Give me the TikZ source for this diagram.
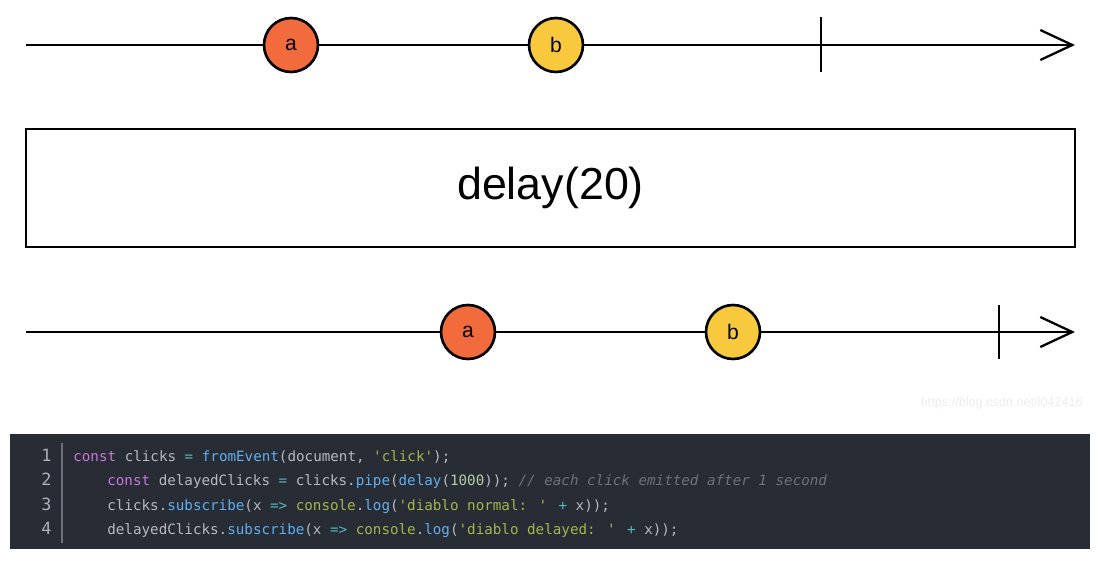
\documentclass[tikz,border=0pt]{standalone}
\usepackage{fontspec}
\setmainfont{Liberation Sans}
\newfontfamily\codefont{DejaVu Sans Mono}
\usetikzlibrary{arrows.meta}
\definecolor{MarbleA}{HTML}{F26B3C}
\definecolor{MarbleB}{HTML}{F9C93D}
\definecolor{CodeBg}{HTML}{282C34}
\definecolor{CodeText}{HTML}{B4BAC4}
\definecolor{CodeNum}{HTML}{A9B0BC}
\definecolor{CodeRule}{HTML}{6B717D}
\definecolor{CodeKw}{HTML}{C678DD}
\definecolor{CodeFn}{HTML}{61AFEF}
\definecolor{CodeOp}{HTML}{56B6C2}
\definecolor{CodeStr}{HTML}{A0B84E}
\definecolor{CodeNumLit}{HTML}{B5CEA8}
\definecolor{CodeCmt}{HTML}{6B717D}
\definecolor{MarkGray}{HTML}{ECECEC}
\newcommand{\kw}[1]{\textcolor{CodeKw}{#1}}
\newcommand{\fn}[1]{\textcolor{CodeFn}{#1}}
\newcommand{\op}[1]{\textcolor{CodeOp}{#1}}
\newcommand{\str}[1]{\textcolor{CodeStr}{#1}}
\newcommand{\nlit}[1]{\textcolor{CodeNumLit}{#1}}
\newcommand{\cmt}[1]{\textcolor{CodeCmt}{\itshape #1}}

\begin{document}
\begin{tikzpicture}[x=0.02cm,y=-0.02cm,
    timeline/.style={line width=1.3pt,black},
    flow/.style={timeline,-{Straight Barb[length=0.64cm,width=0.6cm,line width=1.3pt]}},
    marble/.style={circle,draw=black,line width=1.5pt,minimum size=1.08cm,inner sep=0pt,font=\fontsize{12}{12}\selectfont},
    codeline/.style={anchor=base west,inner sep=0pt,text=CodeText,font=\codefont\fontsize{8.1}{10}\selectfont},
    lineno/.style={anchor=base east,inner sep=0pt,text=CodeNum,font=\codefont\fontsize{9.6}{10}\selectfont}]
  \useasboundingbox (0,0) rectangle (1113,568);

  % input stream
  \coordinate (inStart) at (26,45);
  \coordinate (inEnd) at (1075,45);
  \draw[flow] (inStart) -- (inEnd);
  \coordinate (inTop) at (821,17);
  \coordinate (inBot) at (821,72);
  \draw[timeline] (inTop) -- (inBot);
  \node[marble,fill=MarbleA] (inA) at (291,45) {a};
  \node[marble,fill=MarbleB] (inB) at (556,45) {b};

  % operator box
  \node[draw,line width=1.3pt,minimum width=20.98cm,minimum height=2.36cm,inner sep=0pt,
        font=\fontsize{25.5}{28}\selectfont] (op) at (550.5,188) {\raisebox{-0.08cm}{delay(20)}};

  % output stream
  \coordinate (outStart) at (26,332);
  \coordinate (outEnd) at (1075,332);
  \draw[flow] (outStart) -- (outEnd);
  \coordinate (outTop) at (999,305);
  \coordinate (outBot) at (999,359);
  \draw[timeline] (outTop) -- (outBot);
  \node[marble,fill=MarbleA] (outA) at (468,332) {a};
  \node[marble,fill=MarbleB] (outB) at (733,332) {b};

  \node[anchor=base east,inner sep=0pt,text=MarkGray,font=\fontsize{7.2}{8}\selectfont] (mark) at (1083,406) {https://blog.csdn.net/l042416};

  % code
  \fill[CodeBg] (10,434) rectangle (1090,549);
  \coordinate (ruleTop) at (62,443);
  \coordinate (ruleBot) at (62,543);
  \draw[CodeRule,line width=0.6pt] (ruleTop) -- (ruleBot);
  \foreach \n/\y in {1/461,2/485,3/510,4/534}
    \node[lineno] (num\n) at (52,\y) {\n};
  \node[codeline] (code1) at (73,461) {\kw{const} clicks \op{=} \fn{fromEvent}(document, \str{'click'});};
  \node[codeline] (code2) at (107,485) {\kw{const} delayedClicks \op{=} clicks.\fn{pipe}(\fn{delay}(\nlit{1000})); \cmt{// each click emitted after 1 second}};
  \node[codeline] (code3) at (107,510) {clicks.\fn{subscribe}(x \op{=>} \str{console}.\fn{log}(\str{'diablo normal: '} \op{+} x));};
  \node[codeline] (code4) at (107,534) {delayedClicks.\fn{subscribe}(x \op{=>} \str{console}.\fn{log}(\str{'diablo delayed: '} \op{+} x));};
\end{tikzpicture}
\end{document}
